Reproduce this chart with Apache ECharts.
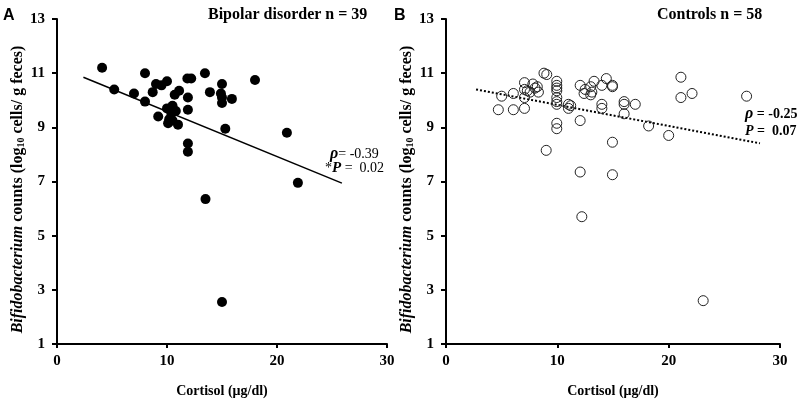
<!DOCTYPE html>
<html><head><meta charset="utf-8">
<script src="https://cdn.jsdelivr.net/npm/echarts@6/dist/echarts.min.js"></script>
<style>html,body{margin:0;padding:0;background:#fff}#c{width:805px;height:404px}</style>
</head><body><div id="c"></div>
<script>
const xTicks = [0, 10, 20, 30];
const yTicks = [1, 3, 5, 7, 9, 11, 13];
const bipolarCortisol = [4.1,5.2,8.0,7.0,8.0,9.0,8.7,10.0,9.2,10.0,10.5,10.4,10.1,11.0,10.5,10.7,11.1,11.85,12.2,11.9,11.9,11.9,11.9,13.45,13.9,15.0,14.9,15.0,15.0,15.9,15.3,18.0,20.9,21.9,13.5,15.0,10.2,10.8,9.5];
const bipolarCounts   = [11.2,10.4,11.0,10.25,9.95,10.6,10.3,10.7,9.4,9.7,9.8,9.5,9.15,9.1,9.25,10.2,10.35,10.8,10.8,10.1,9.65,8.4,8.1,11.0,10.3,10.6,10.25,10.1,9.9,10.05,8.95,10.75,8.8,6.95,6.35,2.55,9.3,9.6,10.55];
const controlCortisol = [4.7,5.0,6.05,6.05,7.05,7.05,7.05,7.05,7.55,7.8,8.0,8.2,8.8,9.05,9.0,9.95,9.95,9.95,9.95,9.95,9.95,9.95,9.95,11.0,11.0,12.05,12.05,12.05,12.4,13.0,13.0,13.3,14.0,14.0,14.0,14.4,14.95,14.95,14.95,14.95,16.0,16.0,16.0,17.0,18.2,20.0,21.1,21.1,22.1,27.0,12.2,23.1,7.3,13.1,11.2,12.5,9.95,8.3];
const controlCounts   = [9.65,10.15,10.25,9.65,10.65,10.4,10.1,9.7,10.3,10.6,10.45,10.5,11.0,10.95,8.15,10.7,10.55,10.35,10.1,9.95,9.85,9.15,8.95,9.85,9.7,10.55,9.25,7.35,10.25,10.5,10.2,10.7,10.55,9.85,9.7,10.8,10.55,10.5,8.45,7.25,9.95,9.85,9.5,9.85,9.05,8.7,10.85,10.1,10.25,10.15,5.7,2.6,10.35,10.3,9.8,10.4,10.45,10.3];
const trendBipolarX = [2.4, 25.9];
const trendBipolarY = [10.85, 6.94];
const trendControlX = [2.7, 28.2];
const trendControlY = [10.4, 8.41];

const SERIF = '"Liberation Serif","Times New Roman",serif';
const SANS = '"Liberation Sans",Arial,sans-serif';
const pair = (xs, ys) => xs.map((x, i) => [x, ys[i]]);

function xAxis(gi) {
  return {
    type: 'value', gridIndex: gi, min: 0, max: 30, interval: 10,
    name: 'Cortisol (μg/dl)', nameLocation: 'middle', nameGap: 40,
    nameTextStyle: {fontFamily: SERIF, fontWeight: 'bold', fontSize: 14, color: '#000'},
    axisLine: {onZero: false, lineStyle: {color: '#000', width: 2}},
    axisTick: {show: true, length: 4, lineStyle: {color: '#000', width: 2}},
    axisLabel: {fontFamily: SERIF, fontWeight: 'bold', fontSize: 15, color: '#000', margin: 10},
    splitLine: {show: false}
  };
}
function yAxis(gi) {
  return {
    type: 'value', gridIndex: gi, min: 1, max: 13, interval: 2,
    name: '{i|Bifidobacterium} counts (log{s|10} cells/ g feces)',
    nameLocation: 'middle', nameRotate: 90, nameGap: 31,
    nameTextStyle: {fontFamily: SERIF, fontWeight: 'bold', fontSize: 16, color: '#000', padding: [0, 16, 0, 0],
      rich: {
        i: {fontFamily: SERIF, fontWeight: 'bold', fontStyle: 'italic', fontSize: 16, color: '#000'},
        s: {fontFamily: SERIF, fontWeight: 'bold', fontSize: 10, color: '#000', verticalAlign: 'bottom', padding: [7, 0, 0, 0]}
      }},
    axisLine: {onZero: false, lineStyle: {color: '#000', width: 2}},
    axisTick: {show: true, length: 5, lineStyle: {color: '#000', width: 2}},
    axisLabel: {fontFamily: SERIF, fontWeight: 'bold', fontSize: 15, color: '#000', margin: 12},
    splitLine: {show: false}
  };
}

const chart = echarts.init(document.getElementById('c'), null, {renderer: 'canvas'});
chart.setOption({
  animation: false,
  backgroundColor: '#fff',
  grid: [
    {left: 57, top: 19, width: 330, height: 325},
    {left: 446, top: 19, width: 334, height: 325}
  ],
  xAxis: [xAxis(0), xAxis(1)],
  yAxis: [yAxis(0), yAxis(1)],
  title: [
    {text: 'Bipolar disorder n = 39', left: 208, top: 7, padding: 0, textStyle: {fontFamily: SERIF, fontWeight: 'bold', fontSize: 16, color: '#000'}},
    {text: 'Controls n = 58', left: 657, top: 7, padding: 0, textStyle: {fontFamily: SERIF, fontWeight: 'bold', fontSize: 16, color: '#000'}},
    {text: 'A', left: 3, top: 8, padding: 0, textStyle: {fontFamily: SANS, fontWeight: 'bold', fontSize: 16, color: '#000'}},
    {text: 'B', left: 394, top: 8, padding: 0, textStyle: {fontFamily: SANS, fontWeight: 'bold', fontSize: 16, color: '#000'}}
  ],
  graphic: [
    {type: 'text', left: 330, top: 146, style: {text: '{g|ρ}= -0.39', font: '14px ' + SERIF, fill: '#000',
      rich: {g: {fontFamily: SERIF, fontStyle: 'italic', fontWeight: 'bold', fontSize: 16, fill: '#000'}}}},
    {type: 'text', left: 325, top: 161, style: {text: '*{g|P} =  0.02', font: '14px ' + SERIF, fill: '#000',
      rich: {g: {fontFamily: SERIF, fontStyle: 'italic', fontWeight: 'bold', fontSize: 15, fill: '#000'}}}},
    {type: 'text', left: 745, top: 106, style: {text: '{g|ρ} = -0.25', font: 'bold 14px ' + SERIF, fill: '#000',
      rich: {g: {fontFamily: SERIF, fontStyle: 'italic', fontWeight: 'bold', fontSize: 16, fill: '#000'}}}},
    {type: 'text', left: 745, top: 124, style: {text: '{g|P} =  0.07', font: 'bold 14px ' + SERIF, fill: '#000',
      rich: {g: {fontFamily: SERIF, fontStyle: 'italic', fontWeight: 'bold', fontSize: 14, fill: '#000'}}}}
  ],
  series: [
    {type: 'scatter', xAxisIndex: 0, yAxisIndex: 0, data: pair(bipolarCortisol, bipolarCounts),
      symbolSize: 10, itemStyle: {color: '#000', opacity: 1}},
    {type: 'line', xAxisIndex: 0, yAxisIndex: 0, data: pair(trendBipolarX, trendBipolarY),
      showSymbol: false, lineStyle: {color: '#000', width: 1.5}, z: 1},
    {type: 'scatter', xAxisIndex: 1, yAxisIndex: 1, data: pair(controlCortisol, controlCounts),
      symbolSize: 10, itemStyle: {color: 'rgba(255,255,255,0)', borderColor: '#222', borderWidth: 1, opacity: 1}},
    {type: 'line', xAxisIndex: 1, yAxisIndex: 1, data: pair(trendControlX, trendControlY),
      showSymbol: false, lineStyle: {color: '#000', width: 2, type: [2, 2]}, z: 1}
  ]
});
</script></body></html>
